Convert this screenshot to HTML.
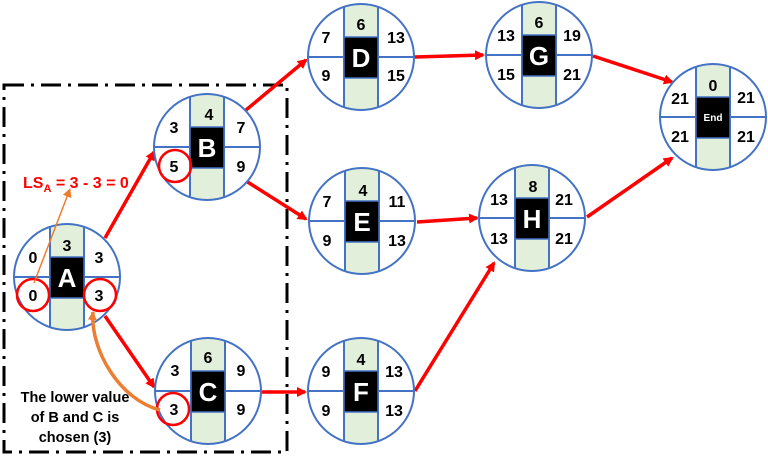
<!DOCTYPE html>
<html><head><meta charset="utf-8"><style>
html,body{margin:0;padding:0;background:#fff;}
svg{display:block;}
text{font-family:"Liberation Sans",sans-serif;font-weight:bold;}
</style></head><body>
<svg width="768" height="458" viewBox="0 0 768 458" xmlns="http://www.w3.org/2000/svg">
<defs>
<marker id="ar" markerWidth="10" markerHeight="10" refX="8" refY="5" orient="auto" markerUnits="userSpaceOnUse" viewBox="0 0 10 10">
<path d="M0,0 L10,5 L0,10 z" fill="#f00"/></marker>
<marker id="ao" markerWidth="9" markerHeight="9" refX="8" refY="4.5" orient="auto" markerUnits="userSpaceOnUse" viewBox="0 0 9 9">
<path d="M0,0 L9,4.5 L0,9 z" fill="#ed7d31"/></marker>
<clipPath id="cc"><circle cx="0" cy="0" r="53"/></clipPath>
<g id="node">
<circle r="53" fill="#fff"/>
<rect x="-17" y="-55" width="34" height="110" fill="#e2efda" clip-path="url(#cc)"/>
<line x1="-17" y1="-51" x2="-17" y2="51" stroke="#4472c4" stroke-width="2"/>
<line x1="17" y1="-51" x2="17" y2="51" stroke="#4472c4" stroke-width="2"/>
<line x1="-53" y1="0" x2="53" y2="0" stroke="#4472c4" stroke-width="2"/>
<rect x="-17" y="-20" width="34" height="41" fill="#000" stroke="#4472c4" stroke-width="1.5"/>
<circle r="53" fill="none" stroke="#4472c4" stroke-width="2"/>
</g>
</defs>
<!-- dashed box -->
<rect x="4" y="85" width="283" height="367" fill="none" stroke="#000" stroke-width="3" stroke-dasharray="20,7,3,7"/>
<!-- arrows -->
<g stroke="#f00" stroke-width="3.5" fill="none" marker-end="url(#ar)">
<line x1="105" y1="238" x2="154" y2="152"/>
<line x1="246" y1="110" x2="306" y2="60"/>
<line x1="246" y1="181" x2="306" y2="219"/>
<line x1="105" y1="316" x2="154" y2="387"/>
<line x1="262" y1="392" x2="305" y2="392"/>
<line x1="415" y1="391" x2="494" y2="263"/>
<line x1="415" y1="57" x2="483" y2="55"/>
<line x1="417" y1="222" x2="477" y2="218"/>
<line x1="593" y1="56" x2="672" y2="82"/>
<line x1="587" y1="217" x2="672" y2="158"/>
</g>
<!-- nodes -->
<use href="#node" x="67" y="277"/>
<use href="#node" x="207" y="147"/>
<use href="#node" x="208" y="391"/>
<use href="#node" x="361" y="57"/>
<use href="#node" x="362" y="221"/>
<use href="#node" x="361" y="391"/>
<use href="#node" x="539" y="55"/>
<use href="#node" x="532" y="218"/>
<use href="#node" x="713" y="117"/>
<g font-size="16" text-anchor="middle" fill="#000">
<!-- A -->
<text x="33" y="263">0</text><text x="67" y="251">3</text><text x="99" y="263">3</text>
<text x="33" y="301">0</text><text x="99" y="301">3</text>
<!-- B -->
<text x="174" y="133">3</text><text x="209" y="120">4</text><text x="241" y="133">7</text>
<text x="174" y="172">5</text><text x="241" y="172">9</text>
<!-- C -->
<text x="175" y="376">3</text><text x="208" y="363">6</text><text x="241" y="376">9</text>
<text x="174" y="415">3</text><text x="241" y="415">9</text>
<!-- D -->
<text x="326" y="43">7</text><text x="361" y="30">6</text><text x="396" y="43">13</text>
<text x="326" y="81">9</text><text x="396" y="81">15</text>
<!-- E -->
<text x="327" y="207">7</text><text x="363" y="196">4</text><text x="397" y="207">11</text>
<text x="327" y="246">9</text><text x="397" y="246">13</text>
<!-- F -->
<text x="326" y="377">9</text><text x="361" y="365">4</text><text x="394" y="377">13</text>
<text x="326" y="416">9</text><text x="394" y="416">13</text>
<!-- G -->
<text x="506" y="41">13</text><text x="539" y="28">6</text><text x="572" y="41">19</text>
<text x="506" y="80">15</text><text x="572" y="80">21</text>
<!-- H -->
<text x="499" y="205">13</text><text x="533" y="192">8</text><text x="564" y="205">21</text>
<text x="499" y="244">13</text><text x="564" y="244">21</text>
<!-- End -->
<text x="680" y="104">21</text><text x="713" y="91">0</text><text x="746" y="103">21</text>
<text x="680" y="142">21</text><text x="746" y="142">21</text>
</g>
<g font-size="26" text-anchor="middle" fill="#fff">
<text x="67" y="287">A</text><text x="207" y="157">B</text><text x="208" y="401">C</text>
<text x="361" y="67">D</text><text x="362" y="231">E</text><text x="361" y="401">F</text>
<text x="539" y="65">G</text><text x="532" y="228">H</text>
</g>
<text x="713" y="121" font-size="10" text-anchor="middle" fill="#fff">End</text>
<!-- red highlight circles -->
<g fill="none" stroke="#f00" stroke-width="2.5">
<circle cx="33" cy="295" r="16"/><circle cx="100" cy="295" r="16"/>
<circle cx="175" cy="166" r="16"/><circle cx="173" cy="409" r="16"/>
</g>
<!-- orange annotations -->
<line x1="34" y1="283" x2="70" y2="189" stroke="#ed7d31" stroke-width="1.5" marker-end="url(#ao)"/>
<path d="M160,410 C120,400 90,350 93,312" fill="none" stroke="#ed7d31" stroke-width="3.5" marker-end="url(#ao)"/>
<text x="23" y="188" font-size="16" fill="#f00">LS<tspan font-size="11" dy="4">A</tspan><tspan dy="-4"> = 3 - 3 = 0</tspan></text>
<g font-size="14.5" text-anchor="middle" fill="#000">
<text x="75" y="402">The lower value</text>
<text x="75" y="422">of B and C is</text>
<text x="75" y="442">chosen (3)</text>
</g>
</svg>
</body></html>
